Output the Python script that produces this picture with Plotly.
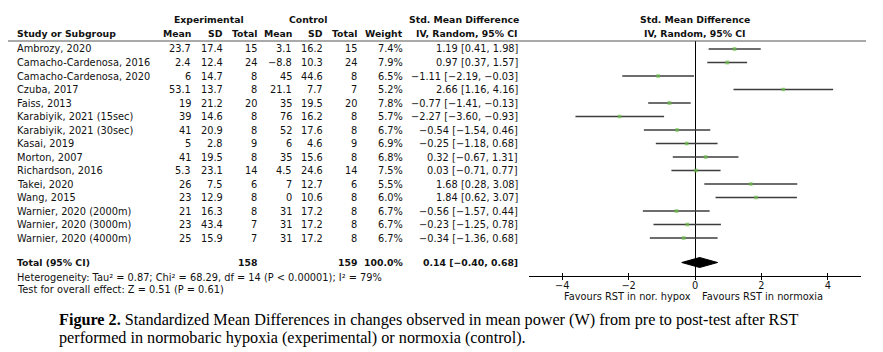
import plotly.graph_objects as go

# ---------------- data ----------------
studies = ["Ambrozy, 2020", "Camacho-Cardenosa, 2016", "Camacho-Cardenosa, 2020",
           "Czuba, 2017", "Faiss, 2013", "Karabiyik, 2021 (15sec)", "Karabiyik, 2021 (30sec)",
           "Kasai, 2019", "Morton, 2007", "Richardson, 2016", "Takei, 2020", "Wang, 2015",
           "Warnier, 2020 (2000m)", "Warnier, 2020 (3000m)", "Warnier, 2020 (4000m)"]
exp_mean = [23.7, 2.4, 6, 53.1, 19, 39, 41, 5, 41, 5.3, 26, 23, 21, 23, 25]
exp_sd = [17.4, 12.4, 14.7, 13.7, 21.2, 14.6, 20.9, 2.8, 19.5, 23.1, 7.5, 12.9, 16.3, 43.4, 15.9]
exp_n = [15, 24, 8, 8, 20, 8, 8, 9, 8, 14, 6, 8, 8, 7, 7]
ctl_mean = [3.1, -8.8, 45, 21.1, 35, 76, 52, 6, 35, 4.5, 7, 0, 31, 31, 31]
ctl_sd = [16.2, 10.3, 44.6, 7.7, 19.5, 16.2, 17.6, 4.6, 15.6, 24.6, 12.7, 10.6, 17.2, 17.2, 17.2]
ctl_n = [15, 24, 8, 7, 20, 8, 8, 9, 8, 14, 6, 8, 8, 8, 8]
weight = [7.4, 7.9, 6.5, 5.2, 7.8, 5.7, 6.7, 6.9, 6.8, 7.5, 5.5, 6.0, 6.7, 6.7, 6.7]
smd = [1.19, 0.97, -1.11, 2.66, -0.77, -2.27, -0.54, -0.25, 0.32, 0.03, 1.68, 1.84, -0.56, -0.23, -0.34]
ci_lo = [0.41, 0.37, -2.19, 1.16, -1.41, -3.60, -1.54, -1.18, -0.67, -0.71, 0.28, 0.62, -1.57, -1.25, -1.36]
ci_hi = [1.98, 1.57, -0.03, 4.16, -0.13, -0.93, 0.46, 0.68, 1.31, 0.77, 3.08, 3.07, 0.44, 0.78, 0.68]

total_exp_n = 158
total_ctl_n = 159
total_weight = 100.0
total_smd = 0.14
total_lo = -0.40
total_hi = 0.68

heterogeneity = "Heterogeneity: Tau² = 0.87; Chi² = 68.29, df = 14 (P < 0.00001); I² = 79%"
overall_test = "Test for overall effect: Z = 0.51 (P = 0.61)"
favours_left = "Favours RST in nor. hypox"
favours_right = "Favours RST in normoxia"
axis_ticks = [-4, -2, 0, 2, 4]
caption1 = "<b>Figure 2.</b> Standardized Mean Differences in changes observed in mean power (W) from pre to post-test after RST"
caption2 = "performed in normobaric hypoxia (experimental) or normoxia (control)."

# ---------------- layout constants ----------------
W, H = 883, 352
ROW0, ROWH = 49, 13.5          # pixel centre of first row, row spacing
TOP_LINE, AXIS_Y = 41, 276     # header rule and forest axis (pixels)
X_LEFT, X_RIGHT = 529, 861     # forest axis extent (pixels), range -5..5
TOTAL_ROW = (262.5 - ROW0) / ROWH

FONT = "DejaVu Sans"
TXT = "#111111"
FS = 9.8
FSB = 9.3


def m(s):
    return s.replace("-", "\u2212")


def fmt(v):
    return m(f"{v:g}")


def px(x):
    return x / W


def py(y):
    return 1 - y / H


fig = go.Figure()

# CI lines
xs, ys = [], []
for i in range(len(studies)):
    xs += [ci_lo[i], ci_hi[i], None]
    ys += [i, i, None]
fig.add_trace(go.Scatter(x=xs, y=ys, mode="lines", line=dict(color="#3c3c3c", width=1.3),
                         hoverinfo="skip", showlegend=False))
# point estimates
fig.add_trace(go.Scatter(x=smd, y=list(range(len(studies))), mode="markers",
                         marker=dict(symbol="square", color="#6cc04a",
                                     size=[3 + w * 0.1 for w in weight], line=dict(width=0)),
                         showlegend=False))
# diamond for total
dh = 0.37
fig.add_trace(go.Scatter(x=[total_lo, total_smd, total_hi, total_smd, total_lo],
                         y=[TOTAL_ROW, TOTAL_ROW - dh, TOTAL_ROW, TOTAL_ROW + dh, TOTAL_ROW],
                         mode="lines", fill="toself", fillcolor="black",
                         line=dict(color="black", width=1), showlegend=False))
# invisible trace on overlay axis (for upward tick marks)
fig.add_trace(go.Scatter(x=[0], y=[0], xaxis="x2", yaxis="y", mode="markers",
                         marker=dict(opacity=0), hoverinfo="skip", showlegend=False))

ann = []


def add(x, y, text, anchor="right", yref="y", size=FS, bold=False, family=FONT, color=TXT):
    if bold:
        text = f"<b>{text}</b>"
    ann.append(dict(x=px(x), xref="paper", y=y, yref=yref, text=text, showarrow=False,
                    xanchor=anchor, yanchor="middle",
                    font=dict(family=family, size=size, color=color)))


# headers
add(209, py(20), "Experimental", "center", "paper", size=FSB, bold=True)
add(308, py(20), "Control", "center", "paper", size=FSB, bold=True)
add(464, py(20), "Std. Mean Difference", "center", "paper", size=FSB, bold=True)
add(695, py(20), "Std. Mean Difference", "center", "paper", size=FSB, bold=True)
add(15, py(33), "Study or Subgroup", "left", "paper", size=FSB, bold=True)
cols = [(193, "Mean"), (225, "SD"), (259, "Total"), (294, "Mean"), (325, "SD"), (359, "Total"),
        (405, "Weight"), (520, "IV, Random, 95% CI")]
for x, t in cols:
    add(x, py(33), t, "right", "paper", size=FSB, bold=True)
add(695, py(33), "IV, Random, 95% CI", "center", "paper", size=FSB, bold=True)

# rows
for i, s in enumerate(studies):
    add(15, i, s, "left")
    add(193, i, fmt(exp_mean[i]))
    add(225, i, fmt(exp_sd[i]))
    add(259, i, str(exp_n[i]))
    add(294, i, fmt(ctl_mean[i]))
    add(325, i, fmt(ctl_sd[i]))
    add(359, i, str(ctl_n[i]))
    add(405, i, f"{weight[i]:.1f}%")
    add(520, i, m(f"{smd[i]:.2f} [{ci_lo[i]:.2f}, {ci_hi[i]:.2f}]"))

# total row
add(15, TOTAL_ROW, "Total (95% CI)", "left", size=FSB, bold=True)
add(259, TOTAL_ROW, str(total_exp_n), size=FSB, bold=True)
add(359, TOTAL_ROW, str(total_ctl_n), size=FSB, bold=True)
add(405, TOTAL_ROW, f"{total_weight:.1f}%", size=FSB, bold=True)
add(520, TOTAL_ROW, m(f"{total_smd:.2f} [{total_lo:.2f}, {total_hi:.2f}]"), size=FSB, bold=True)

add(15, py(277), heterogeneity, "left", "paper", size=FS)
add(15, py(289.5), overall_test, "left", "paper", size=FS)

add(693, py(296), favours_left, "right", "paper", size=FS)
add(700, py(296), favours_right, "left", "paper", size=FS)

# caption
add(57, py(319.5), caption1, "left", "paper", size=16.2, family="Liberation Serif", color="black")
add(57, py(337.8), caption2, "left", "paper", size=16.2, family="Liberation Serif", color="black")

shapes = [dict(type="line", xref="paper", yref="paper", x0=px(8), x1=px(866),
               y0=py(TOP_LINE), y1=py(TOP_LINE), line=dict(color="#555555", width=1))]

xdom = [px(X_LEFT), px(X_RIGHT)]
fig.update_layout(
    width=W, height=H, margin=dict(l=0, r=0, t=0, b=0),
    paper_bgcolor="white", plot_bgcolor="white",
    annotations=ann, shapes=shapes, showlegend=False,
    xaxis=dict(domain=xdom, range=[-5, 5], showgrid=False,
               zeroline=True, zerolinecolor="black", zerolinewidth=1,
               showline=True, linecolor="black", linewidth=1,
               ticks="outside", ticklen=3, tickcolor="black",
               tickvals=axis_ticks, ticktext=[m(str(t)) for t in axis_ticks],
               ticklabelstandoff=-3,
               tickfont=dict(family=FONT, size=FS, color=TXT), fixedrange=True),
    xaxis2=dict(domain=xdom, range=[-5, 5], overlaying="x", anchor="y", side="bottom",
                showgrid=False, zeroline=False, showline=False,
                ticks="inside", ticklen=3, tickcolor="black", tickvals=axis_ticks,
                showticklabels=False, fixedrange=True),
    yaxis=dict(domain=[py(AXIS_Y), py(TOP_LINE)],
               range=[(AXIS_Y - ROW0) / ROWH, (TOP_LINE - ROW0) / ROWH],
               visible=False, fixedrange=True),
)

fig.write_html("out.html")
